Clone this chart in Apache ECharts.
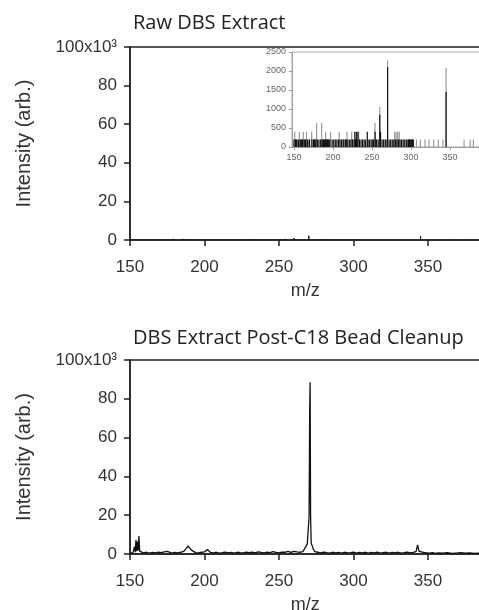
<!DOCTYPE html>
<html>
<head>
<meta charset="utf-8">
<script src="https://cdn.jsdelivr.net/npm/echarts@6/dist/echarts.min.js"></script>
<style>
html,body{margin:0;padding:0;background:#fff;}
#chart{width:479px;height:610px;}
</style>
</head>
<body>
<div id="chart"></div>
<script>
// ---- Data ----
var titles = ['Raw DBS Extract', 'DBS Extract Post-C18 Bead Cleanup'];
var xTicks = [150, 200, 250, 300, 350, 400];
var yTicks = [0, 20000, 40000, 60000, 80000, 100000];
var insetYTicks = [0, 500, 1000, 1500, 2000, 2500];

// Raw DBS extract stick spectrum (counts): lighter/taller sticks
var rawGray = [
  [151,400],[157,400],[162,400],[166,400],[172.7,400],[179,630],[185.5,630],[190.6,400],
  [197,400],[208,400],[218,400],[224,400],[233,400],[253.8,630],[260,1050],[270,2280],
  [279,400],[281,400],[283,400],[285,400],[307,200],[312,200],[318,200],[323,200],
  [329,200],[335,200],[341,200],[345,2080],[368,200],[376,200],[380,200]
];
// Raw DBS extract stick spectrum (counts): dark sticks
var rawBlack = [
  [150,200],[152,200],[153,200],[154,200],[156,200],[158,200],[159,200],[160,200],
  [161,200],[163,200],[164,200],[165,200],[167,200],[168,200],[170,200],[173,200],
  [175,200],[176,200],[177,200],[178,200],[180,200],[182,200],[184,200],[186,200],
  [187,200],[188,200],[189,200],[190,200],[191,200],[192,200],[193,200],[194,200],
  [195,200],[196,200],[199,200],[201,200],[203,200],[205,200],[207,200],[209,200],
  [211,200],[213,200],[214,200],[216,200],[217,200],[219,200],[221,200],[223,200],
  [225,200],[227,200],[228,400],[229,200],[230,400],[231,200],[232,400],[234,200],
  [236,200],[238,200],[240,200],[242,200],[244,400],[245,200],[247,200],[249,200],
  [251,200],[252,200],[254,400],[255,200],[256,200],[258,200],[260,850],[261,400],
  [263,200],[265,200],[267,200],[268,200],[270,2100],[272,200],[274,200],[276,200],
  [278,200],[280,200],[282,200],[284,200],[286,200],[288,200],[290,200],[292,200],
  [294,200],[296,200],[297,200],[298,200],[299,200],[300,200],[301,200],[302,200],
  [303,200],[345,1450]
];

// Post-C18 bead cleanup profile spectrum
var postMz = [150,151,152,153,153.5,154,154.5,155,155.5,156,156.5,157,159,161,163,165,167,169,171,173,174,175,176,178,180,182,184,186,187,188,189,190,191,192,194,196,198,200,201,202,203,204,206,208,210,212,214,216,218,220,222,224,226,228,230,232,234,236,238,240,242,244,246,248,250,252,254,256,258,260,262,264,266,267,268,269,269.8,270.2,270.6,270.9,271.2,271.6,272,272.5,273,274,275,276,278,280,282,284,286,288,290,292,294,296,298,300,302,304,306,308,310,312,314,316,318,320,322,324,326,328,330,332,334,336,338,340,342,343,343.5,344,344.5,345,347,349,351,353,355,357,360,363,366,369,372,375,378,381,384,387,390,393,396,400];
var postInt = [600,900,700,3800,900,7200,1500,6400,1800,9300,1500,800,600,900,500,800,600,900,700,1100,2100,1300,700,500,800,600,900,1300,2200,3000,4200,3300,2100,1200,700,600,900,1100,1600,2300,1500,800,600,900,500,700,1000,600,800,500,900,700,600,1000,700,900,600,1100,800,600,900,700,1200,800,600,1000,900,1300,800,1400,1100,900,1200,1800,3800,5200,6000,19500,74500,88500,20000,5500,4500,3800,2500,1200,700,900,600,1000,700,500,900,600,800,500,900,600,700,1000,500,800,600,900,500,800,600,1000,500,700,900,500,800,600,900,500,700,1000,600,800,1200,4700,4600,1300,700,500,800,600,400,700,300,600,400,700,300,500,700,400,600,300,500,400,600,300,500];

// ---- Build ----
var postData = postMz.map(function (m, i) { return [m, postInt[i]]; });

var AX = '#222', TXT = '#333';
var tickFont = 'Liberation Sans, Arial, sans-serif';

function mainX(gi) {
  return {
    gridIndex: gi, type: 'value', min: 150, max: 400, interval: 50,
    axisLine: { show: true, onZero: false, lineStyle: { color: AX, width: 1.5 } },
    axisTick: { show: true, inside: false, length: 6, lineStyle: { color: AX, width: 1.5 } },
    axisLabel: { show: true, fontSize: 17, color: TXT, fontFamily: tickFont, margin: 19 },
    splitLine: { show: false },
    name: 'm/z', nameLocation: 'middle', nameGap: 42,
    nameTextStyle: { fontSize: 18, color: TXT, fontFamily: tickFont, padding: [0, 22, 0, 0] }
  };
}
function mainY(gi) {
  return {
    gridIndex: gi, type: 'value', min: 0, max: 100000, interval: 20000,
    axisLine: { show: true, lineStyle: { color: AX, width: 1.5 } },
    axisTick: { show: true, inside: false, length: 6, lineStyle: { color: AX, width: 1.5 } },
    axisLabel: {
      show: true, fontSize: 17, color: TXT, fontFamily: tickFont, margin: 13,
      formatter: function (v) { return v === 100000 ? '100x10\u00B3' : String(v / 1000); }
    },
    splitLine: { show: false },
    name: 'Intensity (arb.)', nameLocation: 'middle', nameGap: 96,
    nameTextStyle: { fontSize: 20, color: TXT, fontFamily: tickFont }
  };
}

var chart = echarts.init(document.getElementById('chart'), null, { renderer: 'canvas' });
chart.setOption({
  backgroundColor: '#fff',
  animation: false,
  title: [
    { text: titles[0], left: 133, top: 13, padding: 0, textStyle: { fontFamily: 'Open Sans', fontWeight: 'normal', fontSize: 20, color: '#222' } },
    { text: titles[1], left: 133, top: 328, padding: 0, textStyle: { fontFamily: 'Open Sans', fontWeight: 'normal', fontSize: 20, color: '#222' } }
  ],
  grid: [
    { left: 130, top: 47, width: 372.5, height: 193, outerBoundsMode: 'none', containLabel: false, show: true, borderColor: AX, borderWidth: 1.5, backgroundColor: 'transparent' },
    { left: 130, top: 360, width: 372.5, height: 194, outerBoundsMode: 'none', containLabel: false, show: true, borderColor: AX, borderWidth: 1.5, backgroundColor: 'transparent' },
    { left: 292, top: 52, width: 197, height: 95, outerBoundsMode: 'none', containLabel: false, show: true, borderColor: '#aaa', borderWidth: 1, backgroundColor: 'transparent', z: 5 }
  ],
  xAxis: [
    mainX(0), mainX(1),
    {
      gridIndex: 2, type: 'value', min: 147.5, max: 400,
      axisLine: { show: true, onZero: false, lineStyle: { color: '#999', width: 1 } },
      axisTick: { show: true, length: 3, customValues: xTicks, lineStyle: { color: '#999' } },
      axisLabel: { show: true, fontSize: 9, color: '#666', fontFamily: tickFont, margin: 6, customValues: xTicks,
        formatter: function (v) { return String(v); } },
      splitLine: { show: false }
    }
  ],
  yAxis: [
    mainY(0), mainY(1),
    {
      gridIndex: 2, type: 'value', min: 0, max: 2500, interval: 500,
      axisLine: { show: true, lineStyle: { color: '#999', width: 1 } },
      axisTick: { show: true, length: 3, lineStyle: { color: '#999' } },
      axisLabel: { show: true, fontSize: 9, color: '#666', fontFamily: tickFont, margin: 6,
        formatter: function (v) { return String(v); } },
      splitLine: { show: false }
    }
  ],
  series: [
    { type: 'bar', xAxisIndex: 0, yAxisIndex: 0, data: rawGray, barWidth: 1, barGap: '-100%', itemStyle: { color: '#111' }, silent: true },
    { type: 'bar', xAxisIndex: 0, yAxisIndex: 0, data: rawBlack, barWidth: 1, barGap: '-100%', itemStyle: { color: '#111' }, silent: true },
    { type: 'line', xAxisIndex: 1, yAxisIndex: 1, data: postData, showSymbol: false, lineStyle: { color: '#111', width: 1.3 }, silent: true },
    { type: 'bar', xAxisIndex: 2, yAxisIndex: 2, data: rawGray, barWidth: 1.2, barGap: '-100%', itemStyle: { color: '#9a9a9a' }, z: 6, silent: true },
    { type: 'bar', xAxisIndex: 2, yAxisIndex: 2, data: rawBlack, barWidth: 1.2, barGap: '-100%', itemStyle: { color: '#111' }, z: 7, silent: true }
  ]
});
</script>
</body>
</html>
